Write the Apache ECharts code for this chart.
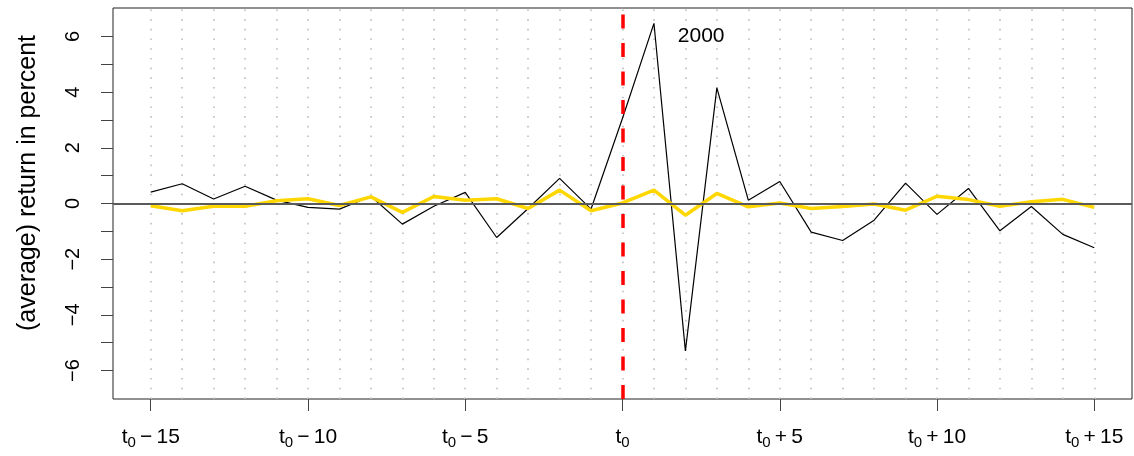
<!DOCTYPE html>
<html>
<head>
<meta charset="utf-8">
<script src="https://cdn.jsdelivr.net/npm/echarts@6/dist/echarts.min.js"></script>
<style>
  html, body { margin: 0; padding: 0; background: #fff; }
  #chart { width: 1134px; height: 456px; }
</style>
</head>
<body>
<div id="chart"></div>
<script>
// event days relative to t0
var eventDays = [-15, -14, -13, -12, -11, -10, -9, -8, -7, -6, -5, -4, -3, -2, -1, 0,
  1, 2, 3, 4, 5, 6, 7, 8, 9, 10, 11, 12, 13, 14, 15];
// return in 2000 (black)
var returns2000 = [0.41, 0.71, 0.16, 0.62, 0.12, -0.14, -0.20, 0.26, -0.74, -0.10, 0.40, -1.22, -0.18, 0.90, -0.20, 3.06,
  6.47, -5.29, 4.15, 0.12, 0.79, -1.03, -1.33, -0.60, 0.73, -0.39, 0.54, -0.98, -0.11, -1.11, -1.59];
// average return (yellow)
var avgReturns = [-0.08, -0.26, -0.10, -0.10, 0.10, 0.17, -0.07, 0.24, -0.32, 0.25, 0.12, 0.17, -0.18, 0.48, -0.26, 0.02,
  0.48, -0.42, 0.36, -0.12, 0.02, -0.18, -0.11, -0.02, -0.24, 0.26, 0.14, -0.10, 0.06, 0.15, -0.14];
var xLabelDays = [-15, -10, -5, 0, 5, 10, 15];
var yTicks = [-6, -5, -4, -3, -2, -1, 0, 1, 2, 3, 4, 5, 6];
var yLabels = [-6, -4, -2, 0, 2, 4, 6];

var font = 'Liberation Sans, Arial, sans-serif';

function pairs(ys) {
  return eventDays.map(function (d, i) { return [d, ys[i]]; });
}

function xFmt(v) {
  if (v === 0) return '{t|t}{s|0}';
  var sign = v < 0 ? '\u2009\u2212\u2009' : '\u2009+\u2009';
  return '{t|t}{s|0}{t|' + sign + Math.abs(v) + '}';
}

var chart = echarts.init(document.getElementById('chart'));
chart.setOption({
  animation: false,
  grid: {
    left: 113, top: 8, width: 1019, height: 391,
    show: true, borderColor: '#222', borderWidth: 1, backgroundColor: 'transparent'
  },
  xAxis: {
    type: 'value', min: -16.2, max: 16.2,
    axisLine: { show: false, onZero: false },
    splitLine: { show: false },
    axisTick: { show: true, customValues: xLabelDays, length: 12, lineStyle: { color: '#444' } },
    axisLabel: {
      customValues: xLabelDays, margin: 26, color: '#000',
      formatter: xFmt,
      rich: {
        t: { fontSize: 21, fontFamily: font, color: '#000' },
        s: { fontSize: 15, fontFamily: font, color: '#000', verticalAlign: 'bottom', padding: [10, 0, 0, 0] }
      }
    }
  },
  yAxis: {
    type: 'value', min: -7.02, max: 7.02,
    axisLine: { show: false, onZero: false },
    splitLine: { show: false },
    axisTick: { show: true, customValues: yTicks, length: 12, lineStyle: { color: '#444' } },
    axisLabel: {
      customValues: yLabels, rotate: 90, margin: 30,
      fontSize: 20, fontFamily: font, color: '#000',
      formatter: function (v) { return String(v).replace('-', '\u2212'); }
    }
  },
  graphic: [{
    type: 'text', x: 28, y: 183, rotation: Math.PI / 2,
    style: {
      text: '(average) return in percent', fontSize: 25, fontFamily: font, fill: '#000',
      align: 'center', verticalAlign: 'middle'
    }
  }],
  series: [
    {
      // dotted vertical guides
      type: 'line', data: [], z: 1,
      markLine: {
        silent: true, symbol: 'none', z: 1, label: { show: false },
        lineStyle: { color: '#bdbdbd', width: 1.6, type: [1.6, 8.1], cap: 'butt' },
        data: eventDays.map(function (d) { return { xAxis: d }; })
      }
    },
    {
      name: '2000', type: 'line', data: pairs(returns2000), z: 2,
      showSymbol: false, symbol: 'none',
      lineStyle: { color: '#000', width: 1.2 }
    },
    {
      name: 'average', type: 'line', data: pairs(avgReturns), z: 3,
      showSymbol: false, symbol: 'none',
      lineStyle: { color: '#FFD700', width: 3.5 }
    },
    {
      // zero line
      type: 'line', data: [], z: 4,
      markLine: {
        silent: true, symbol: 'none', z: 4, label: { show: false },
        lineStyle: { color: '#5a5a5a', width: 2, type: 'solid' },
        data: [{ yAxis: 0 }]
      }
    },
    {
      // event day
      type: 'line', data: [], z: 5,
      markLine: {
        silent: true, symbol: 'none', z: 5, label: { show: false },
        lineStyle: { color: '#FF0000', width: 3.5, type: [14, 14.5], cap: 'butt' },
        data: [{ xAxis: 0 }]
      }
    },
    {
      type: 'scatter', data: [[2.5, 6]], symbolSize: 0, z: 6, silent: true,
      itemStyle: { opacity: 1 },
      label: {
        show: true, position: 'inside', formatter: '2000',
        fontSize: 21, fontFamily: font, color: '#000'
      }
    }
  ]
});
</script>
</body>
</html>
